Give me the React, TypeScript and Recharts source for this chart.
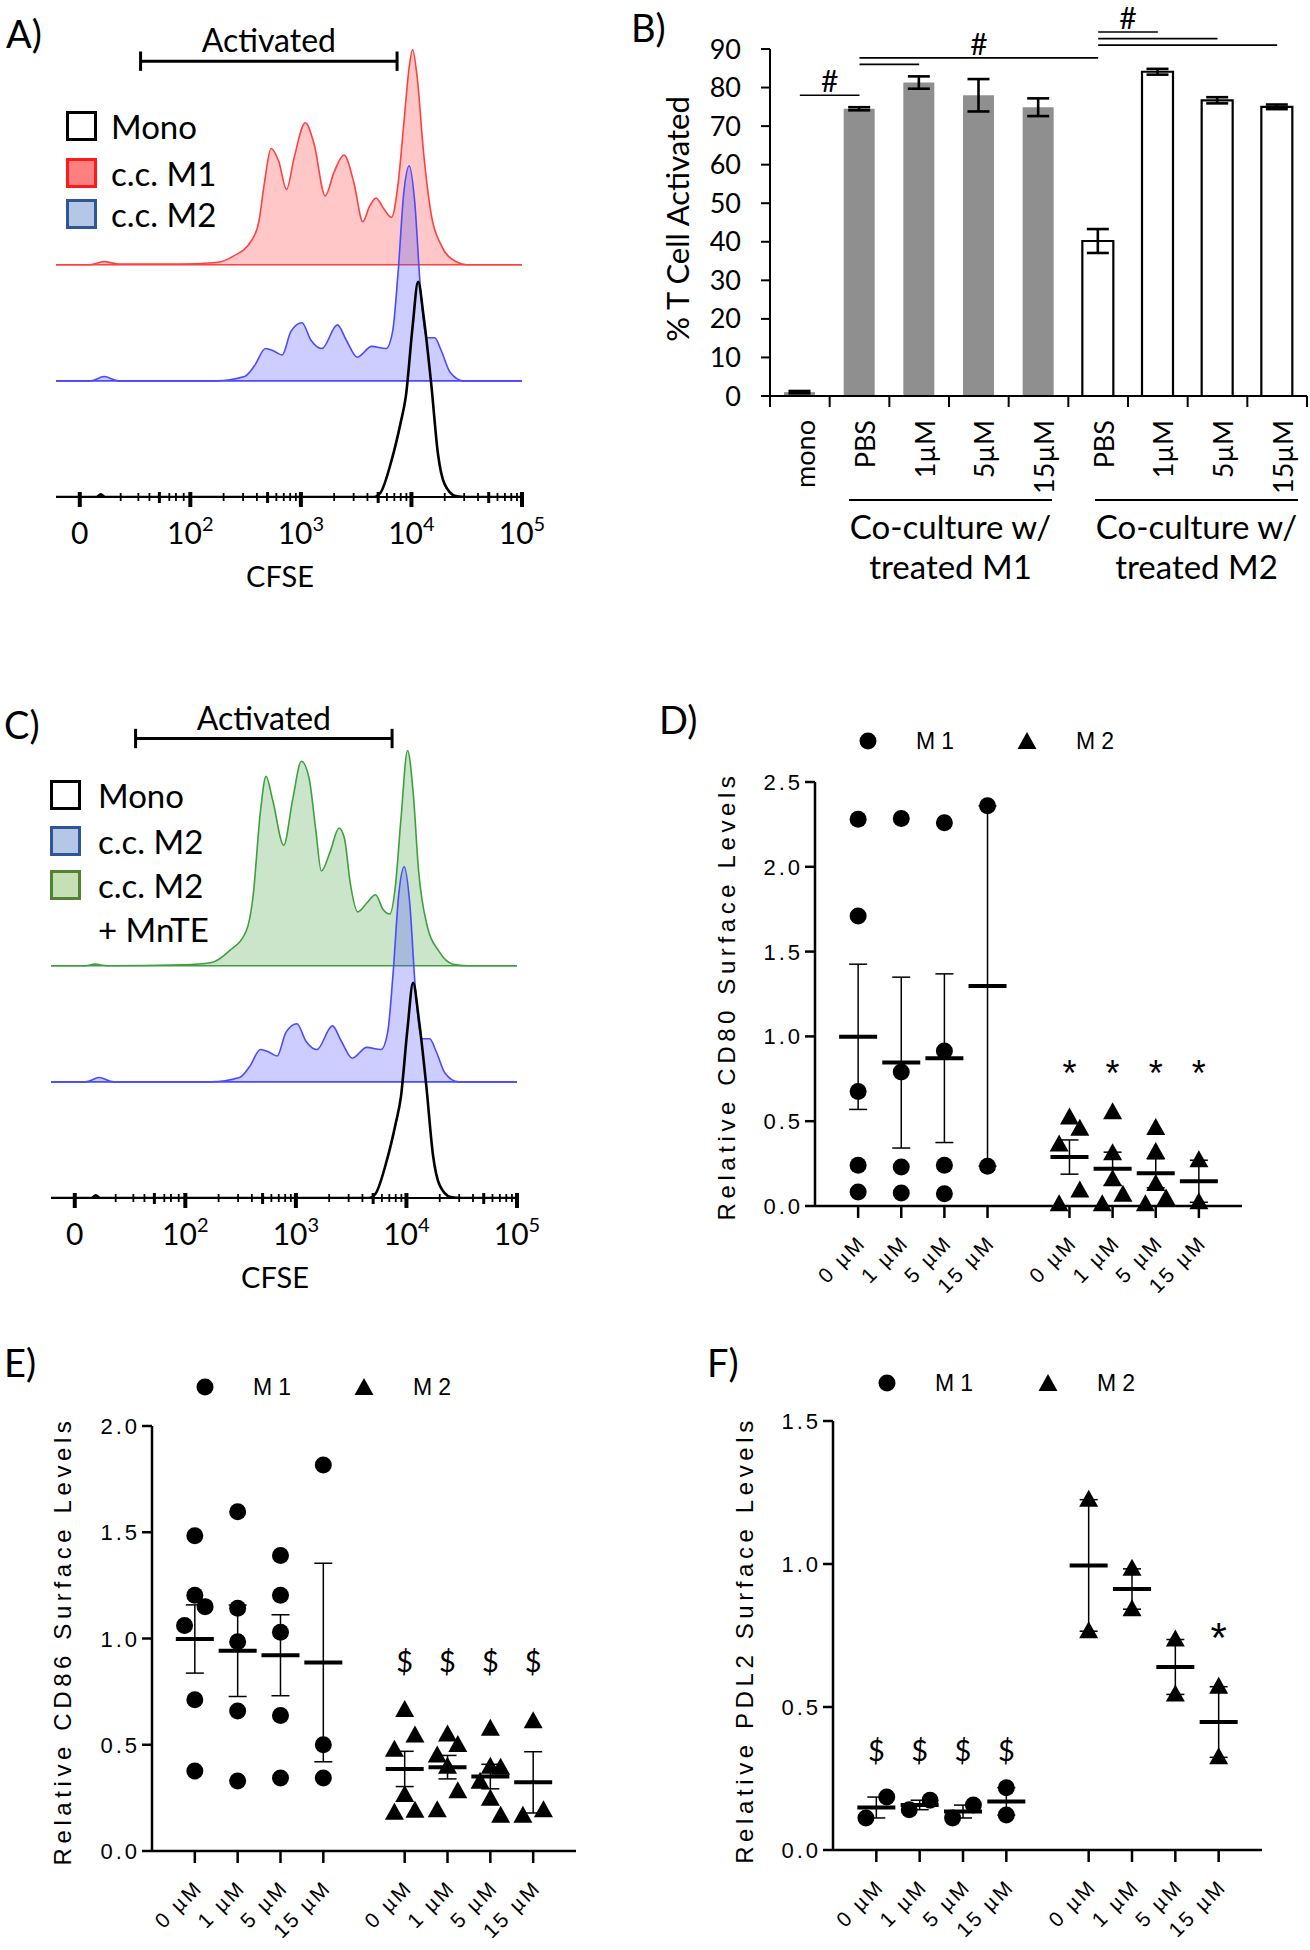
import React from 'react'
import {
  ComposedChart, Area, Line, XAxis, YAxis, ReferenceLine, BarChart, Bar, Cell, ErrorBar,
  ScatterChart, Scatter,
} from 'recharts'

const SANS = 'Lato, "Open Sans", sans-serif'
const ARIAL = '"Liberation Sans", Arial, sans-serif'

// ---------- A / C: CFSE histograms ----------
// u = display position on the biexponential axis (0 = "0", 1 = 10^2, 2 = 10^3, 3 = 10^4, 4 = 10^5)
// h = % of modal count
const ccM1Hist = [
  { u: -0.22, h: 0 }, { u: 0.09, h: 0 }, { u: 0.22, h: 1.4 }, { u: 0.35, h: 0.3 }, { u: 0.9, h: 0.3 },
  { u: 1.23, h: 1 }, { u: 1.39, h: 4 }, { u: 1.55, h: 11 }, { u: 1.62, h: 20 }, { u: 1.67, h: 38 },
  { u: 1.73, h: 54 }, { u: 1.8, h: 48 }, { u: 1.87, h: 35 }, { u: 1.94, h: 50 }, { u: 2.04, h: 66 },
  { u: 2.12, h: 56 }, { u: 2.22, h: 32 }, { u: 2.3, h: 43 }, { u: 2.39, h: 51 }, { u: 2.48, h: 38 },
  { u: 2.56, h: 20 }, { u: 2.62, h: 27 }, { u: 2.68, h: 31 }, { u: 2.75, h: 26 }, { u: 2.82, h: 22 },
  { u: 2.88, h: 38 }, { u: 2.93, h: 65 }, { u: 2.98, h: 92 }, { u: 3.01, h: 100 }, { u: 3.05, h: 88 },
  { u: 3.11, h: 52 }, { u: 3.18, h: 23 }, { u: 3.27, h: 9 }, { u: 3.4, h: 1.5 }, { u: 3.5, h: 0 },
  { u: 4.0, h: 0 },
]

const ccM2Hist = [
  { u: -0.22, h: 0 }, { u: 0.1, h: 0 }, { u: 0.22, h: 2 }, { u: 0.35, h: 0 }, { u: 1.23, h: 0 },
  { u: 1.49, h: 2 }, { u: 1.58, h: 7 }, { u: 1.68, h: 15 }, { u: 1.75, h: 14 }, { u: 1.83, h: 12 },
  { u: 1.91, h: 23 }, { u: 2.01, h: 27 }, { u: 2.09, h: 19 }, { u: 2.19, h: 15 }, { u: 2.33, h: 26 },
  { u: 2.41, h: 19 }, { u: 2.51, h: 11 }, { u: 2.64, h: 16 }, { u: 2.77, h: 15 }, { u: 2.83, h: 23 },
  { u: 2.88, h: 51 }, { u: 2.93, h: 87 }, { u: 2.98, h: 100 }, { u: 3.03, h: 83 }, { u: 3.08, h: 44 },
  { u: 3.14, h: 20 }, { u: 3.21, h: 20 }, { u: 3.27, h: 14 }, { u: 3.35, h: 4 }, { u: 3.47, h: 0 },
  { u: 4.0, h: 0 },
]

const ccM2MnteHist = [
  { u: -0.23, h: 0 }, { u: 0.1, h: 0 }, { u: 0.18, h: 0.7 }, { u: 0.29, h: 0 }, { u: 0.98, h: 0.4 },
  { u: 1.24, h: 1.5 }, { u: 1.4, h: 7 }, { u: 1.55, h: 16 }, { u: 1.61, h: 31 }, { u: 1.68, h: 72 },
  { u: 1.73, h: 88 }, { u: 1.79, h: 77 }, { u: 1.89, h: 56 }, { u: 1.97, h: 77 }, { u: 2.05, h: 95 },
  { u: 2.12, h: 87 }, { u: 2.18, h: 63 }, { u: 2.23, h: 44 }, { u: 2.31, h: 53 }, { u: 2.39, h: 64 },
  { u: 2.44, h: 59 }, { u: 2.49, h: 39 }, { u: 2.56, h: 25 }, { u: 2.64, h: 29 }, { u: 2.72, h: 33 },
  { u: 2.79, h: 26 }, { u: 2.85, h: 24 }, { u: 2.9, h: 37 }, { u: 2.95, h: 68 }, { u: 3.01, h: 100 },
  { u: 3.06, h: 81 }, { u: 3.11, h: 44 }, { u: 3.19, h: 18 }, { u: 3.29, h: 7 }, { u: 3.42, h: 0.7 },
  { u: 3.55, h: 0 }, { u: 4.0, h: 0 },
]

const monoHist = [
  { u: -0.22, h: 0 }, { u: 0.15, h: 0 }, { u: 0.19, h: 1.2 }, { u: 0.23, h: 0 }, { u: 2.66, h: 0 },
  { u: 2.72, h: 2 }, { u: 2.82, h: 17 }, { u: 2.9, h: 34 }, { u: 2.95, h: 47 }, { u: 3.01, h: 79 },
  { u: 3.06, h: 100 }, { u: 3.11, h: 84 }, { u: 3.18, h: 52 }, { u: 3.24, h: 20 }, { u: 3.3, h: 6 },
  { u: 3.4, h: 0.5 }, { u: 3.5, h: 0 }, { u: 4.0, h: 0 },
]

const cfseMajor = [0, 1, 2, 3, 4]
const cfseExponent = ['', '2', '3', '4', '5']
const cfseLinearMinor = [0.37, 0.53, 0.63, 0.72, 0.81, 0.87, 0.94]
const cfseLogMinor = [1, 2, 3].flatMap((k) => [2, 3, 4, 5, 6, 7, 8, 9].map((m) => k + Math.log10(m)))
const cfseMid = [0.72, 1 + Math.log10(5), 2 + Math.log10(5), 3 + Math.log10(5)]
const cfseTicks = [...cfseMajor, ...cfseLinearMinor, ...cfseLogMinor].sort((a, b) => a - b)
const activatedGate = [0.55, 2.87]

// ---------- B: % T cell activated ----------
const bLabels = ['mono', 'PBS', '1µM', '5µM', '15µM', 'PBS', '1µM', '5µM', '15µM']
const bGroups = ['mono', 'M1', 'M1', 'M1', 'M1', 'M2', 'M2', 'M2', 'M2']
const bMeans = [1.0, 74.5, 81.3, 78.0, 74.9, 40.2, 84.1, 76.7, 75.0]
const bErrors = [0.3, 0.4, 1.6, 4.2, 2.3, 3.1, 0.75, 0.8, 0.6]
const bTicks = [0, 10, 20, 30, 40, 50, 60, 70, 80, 90]
const bSig = [
  { from: 0, to: 1, y: 78, mark: '#' },
  { from: 1, to: 2, y: 86, mark: '' },
  { from: 1, to: 5, y: 87.7, mark: '#' },
  { from: 5, to: 6, y: 94.4, mark: '#' },
  { from: 5, to: 7, y: 92.7, mark: '' },
  { from: 5, to: 8, y: 91, mark: '' },
]

// ---------- D / E / F: relative surface levels (one array per dose, 0/1/5/15 µM) ----------
const doseLabels = ['0 µM', '1 µM', '5 µM', '15 µM']
const cd80M1 = [[2.28, 1.71, 0.675, 0.24, 0.083], [2.285, 0.79, 0.23, 0.077], [2.26, 0.914, 0.24, 0.072], [2.36, 0.235]]
const cd80M2 = [[0.522, 0.456, 0.362, 0.092, 0.011], [0.553, 0.311, 0.158, 0.066, 0.011], [0.46, 0.318, 0.13, 0.044, 0.011], [0.27, 0.022]]
const cd86M1 = [[1.483, 1.204, 1.15, 1.061, 0.712, 0.376], [1.596, 1.142, 0.985, 0.659, 0.329], [1.391, 1.204, 1.029, 0.638, 0.344], [1.817, 0.5, 0.344]]
const cd86M2 = [[0.664, 0.543, 0.477, 0.264, 0.189, 0.18], [0.548, 0.499, 0.45, 0.397, 0.281, 0.192], [0.575, 0.397, 0.392, 0.326, 0.246, 0.166], [0.611, 0.192, 0.166]]
const pdl2M1 = [[0.112, 0.185], [0.141, 0.174], [0.112, 0.157], [0.218, 0.122]]
const pdl2M2 = [[1.225, 0.765], [0.983, 0.842], [0.736, 0.544], [0.571, 0.324]]
const cd80Marks = [4, 5, 6, 7].map((g) => ({ g, sym: '*', level: 0.825 }))
const cd86Marks = [4, 5, 6, 7].map((g) => ({ g, sym: '$', level: 0.889 }))
const pdl2Marks = [...[0, 1, 2, 3].map((g) => ({ g, sym: '$', level: 0.346 })), { g: 7, sym: '*', level: 0.773 }]

// ---------- layout ----------
const HW = 560
const HH = 620
const H_MARGIN = { top: 33, right: 38, left: 56, bottom: 0 }
const H_AXIS_H = 103
const H_AXIS_Y = HH - H_AXIS_H
const H_YMAX = 225
const STACK_STEP = 54 // vertical offset between stacked histograms, in % units

const POS = [1, 2, 3, 4, 5.9, 6.9, 7.9, 8.9]
const JIT = 0.24
const GAP_PX = 24

function mean(v: number[]) {
  return v.reduce((a, b) => a + b, 0) / v.length
}
function sem(v: number[]) {
  const m = mean(v)
  const sd = Math.sqrt(v.reduce((a, b) => a + (b - m) * (b - m), 0) / (v.length - 1))
  return sd / Math.sqrt(v.length)
}

// spread points with close values sideways, like a prism scatter column
function spread(values: number[], pxPerUnit: number) {
  const order = values.map((_, i) => i).sort((a, b) => values[b] - values[a])
  const out = values.map(() => 0)
  const clusters: number[][] = []
  order.forEach((i, k) => {
    if (k > 0 && (values[order[k - 1]] - values[i]) * pxPerUnit < GAP_PX) clusters[clusters.length - 1].push(i)
    else clusters.push([i])
  })
  clusters.forEach((c) => {
    if (c.length === 2) {
      out[c[0]] = JIT
      out[c[1]] = -JIT
    } else if (c.length > 2) {
      c.forEach((i, k) => { out[i] = [0, JIT, -JIT][k % 3] })
    }
  })
  return out
}

function CfseTick({ x, payload }: any) {
  const v = payload.value
  const y0 = H_AXIS_Y
  if (!cfseMajor.includes(v)) {
    const mid = cfseMid.some((m) => Math.abs(m - v) < 1e-6)
    return <line x1={x} x2={x} y1={y0 - (mid ? 5 : 4)} y2={y0 + (mid ? 6 : 4)} stroke="#000" strokeWidth={mid ? 3 : 1.8} />
  }
  return (
    <g>
      <line x1={x} x2={x} y1={y0 - 5} y2={y0 + 10} stroke="#000" strokeWidth={4} />
      <text x={x} y={y0 + 47} textAnchor="middle" fontSize={30} fontFamily={SANS} fill="#000">
        {v === 0 ? '0' : <>10<tspan dy={-13} fontSize={20}>{cfseExponent[v]}</tspan></>}
      </text>
    </g>
  )
}

function HistLayer({ rows, base, stroke, fill, axis, gateY }: any) {
  return (
    <div style={{ position: 'absolute', left: 0, top: 0 }}>
      <ComposedChart width={HW} height={HH} data={rows} margin={H_MARGIN}>
        <XAxis
          type="number"
          dataKey="u"
          domain={[-0.215, 4]}
          allowDataOverflow
          height={H_AXIS_H}
          ticks={axis ? cfseTicks : cfseMajor}
          interval={0}
          axisLine={axis ? { stroke: '#000', strokeWidth: 2 } : false}
          tickLine={false}
          tick={axis ? (p: any) => <CfseTick {...p} /> : false}
        />
        <YAxis hide domain={[0, H_YMAX]} allowDataOverflow />
        {fill ? (
          <Area
            type="monotone"
            dataKey={(d: any) => [base, base + d.h]}
            stroke={stroke}
            strokeWidth={1.6}
            fill={fill}
            fillOpacity={1}
            isAnimationActive={false}
          />
        ) : (
          <Line type="monotone" dataKey="h" stroke={stroke} strokeWidth={2.6} dot={false} isAnimationActive={false} />
        )}
        {gateY !== undefined && (
          <ReferenceLine
            segment={[{ x: activatedGate[0], y: gateY }, { x: activatedGate[1], y: gateY }]}
            stroke="#000"
            strokeWidth={3}
            ifOverflow="visible"
            label={{ value: 'Activated', position: 'top', offset: 9, fontSize: 32, fontFamily: SANS, fill: '#000' }}
          />
        )}
        {gateY !== undefined && activatedGate.map((g) => (
          <ReferenceLine
            key={g}
            segment={[{ x: g, y: gateY - 4.5 }, { x: g, y: gateY + 4.5 }]}
            stroke="#000"
            strokeWidth={3}
            ifOverflow="visible"
          />
        ))}
      </ComposedChart>
    </div>
  )
}

function Swatch({ x, cy, fill, border, text, textX }: any) {
  return (
    <>
      <div style={{ position: 'absolute', left: x, top: cy - 15, width: 25, height: 24, background: fill, border: `3.5px solid ${border}` }} />
      <div style={{ position: 'absolute', left: textX, top: cy - 20, height: 40, lineHeight: '40px', fontSize: 33, fontFamily: SANS, whiteSpace: 'nowrap' }}>{text}</div>
    </>
  )
}

function FlowPanel({ left, top, upper, upperStroke, upperFill, gateY }: any) {
  return (
    <div style={{ position: 'absolute', left, top, width: HW, height: HH }}>
      <HistLayer rows={upper} base={STACK_STEP * 2} stroke={upperStroke} fill={upperFill} />
      <HistLayer rows={ccM2Hist} base={STACK_STEP} stroke="#4a4aff" fill="rgba(90,90,255,0.3)" />
      <HistLayer rows={monoHist} base={0} stroke="#000" axis gateY={gateY} />
      <div style={{ position: 'absolute', left: 210, top: 578, width: 140, height: 36, lineHeight: '36px', textAlign: 'center', fontSize: 29, fontFamily: SANS }}>CFSE</div>
    </div>
  )
}

// ---------- B ----------
const B_W = 690
const B_H = 600
const B_TOP = 49
const B_YW = 150
const B_RIGHT = 3
const B_XH = 204
const B_AXIS_Y = B_H - B_XH
const B_BAND = (B_W - B_YW - B_RIGHT) / bLabels.length
const bRows = bLabels.map((label, i) => ({
  id: `${bGroups[i]} ${label}`,
  label,
  group: bGroups[i],
  value: bMeans[i],
  sem: bErrors[i],
}))

function BTick({ x, payload }: any) {
  const i = bRows.findIndex((r) => r.id === payload.value)
  const ly = B_AXIS_Y + 24
  return (
    <g>
      <line x1={x - B_BAND / 2} x2={x - B_BAND / 2} y1={B_AXIS_Y} y2={B_AXIS_Y + 11} stroke="#000" strokeWidth={2} />
      {i === bRows.length - 1 && (
        <line x1={x + B_BAND / 2} x2={x + B_BAND / 2} y1={B_AXIS_Y} y2={B_AXIS_Y + 11} stroke="#000" strokeWidth={2} />
      )}
      <text
        x={x + 5}
        y={ly}
        transform={`rotate(-90 ${x + 5} ${ly})`}
        textAnchor="end"
        dominantBaseline="central"
        fontSize={27}
        fontFamily={SANS}
        fill="#000"
      >
        {bRows[i]?.label}
      </text>
    </g>
  )
}

function PanelB() {
  return (
    <div style={{ position: 'absolute', left: 620, top: 0, width: B_W, height: B_H }}>
      <BarChart width={B_W} height={B_H} data={bRows} margin={{ top: B_TOP, right: B_RIGHT, left: 0, bottom: 0 }}>
        <XAxis
          dataKey="id"
          height={B_XH}
          interval={0}
          tickLine={false}
          axisLine={{ stroke: '#000', strokeWidth: 2 }}
          tick={(p: any) => <BTick {...p} />}
        />
        <YAxis
          width={B_YW}
          domain={[0, 90]}
          ticks={bTicks}
          interval={0}
          tickSize={9}
          tickMargin={20}
          axisLine={{ stroke: '#000', strokeWidth: 2 }}
          tickLine={{ stroke: '#000', strokeWidth: 2 }}
          tick={{ fontSize: 27, fontFamily: SANS, fill: '#000' }}
        />
        <Bar dataKey="value" barSize={31} isAnimationActive={false}>
          {bRows.map((r) => (
            <Cell
              key={r.id}
              fill={r.group === 'M2' ? '#fff' : '#8f8f8f'}
              stroke={r.group === 'M2' ? '#000' : 'none'}
              strokeWidth={r.group === 'M2' ? 2.2 : 0}
            />
          ))}
          <ErrorBar dataKey="sem" width={11} strokeWidth={2.6} stroke="#000" direction="y" />
        </Bar>
        {bSig.map((s, i) => (
          <ReferenceLine
            key={i}
            segment={[{ x: bRows[s.from].id, y: s.y }, { x: bRows[s.to].id, y: s.y }]}
            stroke="#000"
            strokeWidth={1.6}
            ifOverflow="visible"
            label={s.mark ? { value: s.mark, position: 'top', offset: 3, fontSize: 30, fontFamily: SANS, fill: '#000' } : undefined}
          />
        ))}
      </BarChart>
    </div>
  )
}

function GroupLabel({ x1, x2, lines }: any) {
  const cx = (x1 + x2) / 2
  return (
    <>
      <div style={{ position: 'absolute', left: x1, top: 499, width: x2 - x1, height: 2, background: '#000' }} />
      <div style={{ position: 'absolute', left: cx - 150, top: 506, width: 300, textAlign: 'center', fontSize: 33, lineHeight: '40px', fontFamily: SANS }}>
        {lines.map((l: string) => <div key={l}>{l}</div>)}
      </div>
    </>
  )
}

// ---------- D / E / F ----------
function Circle({ cx, cy }: any) {
  return <circle cx={cx} cy={cy} r={8.5} fill="#000" />
}
function Tri({ cx, cy }: any) {
  return <polygon points={`${cx},${cy - 10} ${cx - 9.5},${cy + 7} ${cx + 9.5},${cy + 7}`} fill="#000" />
}

function DosePanel({ plotLeft, plotTop, plotW, plotH, yMax, yTicks, m1, m2, marks, markSize }: any) {
  const W = plotW + 120
  const H = plotH + 130
  const axisY = 20 + plotH
  const ppu = plotH / yMax
  const groups = [...m1, ...m2]
  const points = (sets: number[][], start: number) =>
    sets.flatMap((vals, g) => {
      const off = spread(vals, ppu)
      return vals.map((v, i) => ({ x: POS[start + g] + off[i], y: v }))
    })
  const m1Pts = points(m1, 0)
  const m2Pts = points(m2, 4)
  const means = groups.map((vals: number[], g: number) => ({ x: POS[g], y: mean(vals), err: sem(vals) }))
  const markRows = marks.map((m: any) => ({ x: POS[m.g], y: m.level, sym: m.sym }))
  return (
    <div style={{ position: 'absolute', left: plotLeft - 100, top: plotTop - 20, width: W, height: H }}>
      <ScatterChart width={W} height={H} margin={{ top: 20, right: 20, left: 0, bottom: 0 }}>
        <XAxis
          type="number"
          dataKey="x"
          domain={[0, 9.9]}
          ticks={POS}
          interval={0}
          height={110}
          tickSize={12}
          axisLine={{ stroke: '#000', strokeWidth: 2.5 }}
          tickLine={{ stroke: '#000', strokeWidth: 2.5 }}
          tick={(p: any) => {
            const i = POS.indexOf(p.payload.value)
            const ax = p.x + 9
            const ay = axisY + 38
            return (
              <text x={ax} y={ay} transform={`rotate(-45 ${ax} ${ay})`} textAnchor="end" fontSize={21} letterSpacing={2.5} fontFamily={ARIAL} fill="#000">
                {doseLabels[i % 4]}
              </text>
            )
          }}
        />
        <YAxis
          type="number"
          dataKey="y"
          domain={[0, yMax]}
          ticks={yTicks}
          interval={0}
          width={100}
          tickSize={10}
          tickMargin={5}
          axisLine={{ stroke: '#000', strokeWidth: 2.5 }}
          tickLine={{ stroke: '#000', strokeWidth: 2.5 }}
          tick={(p: any) => (
            <text x={p.x + 3} y={p.y} dy={8} textAnchor="end" fontSize={22} letterSpacing={3} fontFamily={ARIAL} fill="#000">
              {Number(p.payload.value).toFixed(1)}
            </text>
          )}
        />
        <Scatter data={m1Pts} shape={(p: any) => <Circle cx={p.cx} cy={p.cy} />} isAnimationActive={false} />
        <Scatter data={m2Pts} shape={(p: any) => <Tri cx={p.cx} cy={p.cy} />} isAnimationActive={false} />
        <Scatter
          data={means}
          shape={(p: any) => <line x1={p.cx - 19} x2={p.cx + 19} y1={p.cy} y2={p.cy} stroke="#000" strokeWidth={4} />}
          isAnimationActive={false}
        >
          <ErrorBar dataKey="err" direction="y" width={9} strokeWidth={1.5} stroke="#000" />
        </Scatter>
        <Scatter
          data={markRows}
          shape={(p: any) => {
            const star = p.payload.sym === '*'
            return (
              <text
                x={p.cx}
                y={p.cy}
                dy={star ? markSize * 0.56 : 10}
                textAnchor="middle"
                fontSize={star ? markSize : 29}
                fontFamily={star ? ARIAL : SANS}
                fill="#000"
              >
                {p.payload.sym}
              </text>
            )
          }}
          isAnimationActive={false}
        />
      </ScatterChart>
    </div>
  )
}

function DoseLegend({ circleX, triX, y }: any) {
  const txt = { position: 'absolute' as const, top: y - 15, height: 30, lineHeight: '30px', fontSize: 23, letterSpacing: 6, fontFamily: ARIAL }
  return (
    <>
      <svg style={{ position: 'absolute', left: circleX - 10, top: y - 10 }} width={20} height={20}>
        <Circle cx={10} cy={10} />
      </svg>
      <div style={{ ...txt, left: circleX + 48 }}>M1</div>
      <svg style={{ position: 'absolute', left: triX - 10, top: y - 10 }} width={20} height={20}>
        <Tri cx={10} cy={11} />
      </svg>
      <div style={{ ...txt, left: triX + 49 }}>M2</div>
    </>
  )
}

function VTitle({ cx, cy, text, size, ls, font }: any) {
  return (
    <div
      style={{
        position: 'absolute', left: cx - 300, top: cy - 20, width: 600, height: 40, lineHeight: '40px',
        textAlign: 'center', transform: 'rotate(-90deg)', fontSize: size, letterSpacing: ls, fontFamily: font, whiteSpace: 'nowrap',
      }}
    >
      {text}
    </div>
  )
}

function Letter({ x, y, t }: any) {
  return <div style={{ position: 'absolute', left: x, top: y, fontSize: 38, lineHeight: 1, fontFamily: SANS }}>{t}</div>
}

export default function App() {
  return (
    <div style={{ position: 'relative', width: 1310, height: 1950, background: '#fff', overflow: 'hidden', fontFamily: SANS, color: '#000' }}>
      <style>{'body{margin:0}'}</style>

      {/* A */}
      <FlowPanel left={0} top={-20} upper={ccM1Hist} upperStroke="#ff4040" upperFill="rgba(255,70,70,0.3)" gateY={202.6} />
      <Letter x={6} y={14} t="A)" />
      <Swatch x={66} cy={126} fill="#fff" border="#000" text="Mono" textX={111} />
      <Swatch x={66} cy={173} fill="#ff8080" border="#ff1a1a" text="c.c. M1" textX={111} />
      <Swatch x={66} cy={214} fill="#b4c7e7" border="#2f5597" text="c.c. M2" textX={111} />

      {/* B */}
      <Letter x={631} y={8} t="B)" />
      <PanelB />
      <VTitle cx={677} cy={219} text="% T Cell Activated" size={31} ls={0} font={SANS} />
      <GroupLabel x1={849} x2={1052} lines={['Co-culture w/', 'treated M1']} />
      <GroupLabel x1={1095} x2={1298} lines={['Co-culture w/', 'treated M2']} />

      {/* C */}
      <FlowPanel left={-5} top={681} upper={ccM2MnteHist} upperStroke="#3f9f3f" upperFill="rgba(80,170,80,0.3)" gateY={213.6} />
      <Letter x={4} y={705} t="C)" />
      <Swatch x={50} cy={795} fill="#fff" border="#000" text="Mono" textX={98} />
      <Swatch x={50} cy={841} fill="#b4c7e7" border="#2f5597" text="c.c. M2" textX={98} />
      <Swatch x={50} cy={885} fill="#c5e0b4" border="#548235" text="c.c. M2" textX={98} />
      <div style={{ position: 'absolute', left: 98, top: 909, height: 40, lineHeight: '40px', fontSize: 33, fontFamily: SANS }}>+ MnTE</div>

      {/* D */}
      <Letter x={659} y={700} t="D)" />
      <DoseLegend circleX={868} triX={1027} y={741} />
      <VTitle cx={727} cy={996} text="Relative CD80 Surface Levels" size={24} ls={4.6} font={ARIAL} />
      <DosePanel plotLeft={815} plotTop={782} plotW={427} plotH={424} yMax={2.5} yTicks={[0, 0.5, 1, 1.5, 2, 2.5]} m1={cd80M1} m2={cd80M2} marks={cd80Marks} markSize={36} />

      {/* E */}
      <Letter x={4} y={1343} t="E)" />
      <DoseLegend circleX={205} triX={364} y={1387} />
      <VTitle cx={63} cy={1641} text="Relative CD86 Surface Levels" size={24} ls={4.6} font={ARIAL} />
      <DosePanel plotLeft={152} plotTop={1426} plotW={424} plotH={425} yMax={2} yTicks={[0, 0.5, 1, 1.5, 2]} m1={cd86M1} m2={cd86M2} marks={cd86Marks} markSize={36} />

      {/* F */}
      <Letter x={707} y={1343} t="F)" />
      <DoseLegend circleX={887} triX={1048} y={1383} />
      <VTitle cx={745} cy={1640} text="Relative PDL2 Surface Levels" size={24} ls={4.6} font={ARIAL} />
      <DosePanel plotLeft={833} plotTop={1421} plotW={429} plotH={429} yMax={1.5} yTicks={[0, 0.5, 1, 1.5]} m1={pdl2M1} m2={pdl2M2} marks={pdl2Marks} markSize={42} />
    </div>
  )
}
